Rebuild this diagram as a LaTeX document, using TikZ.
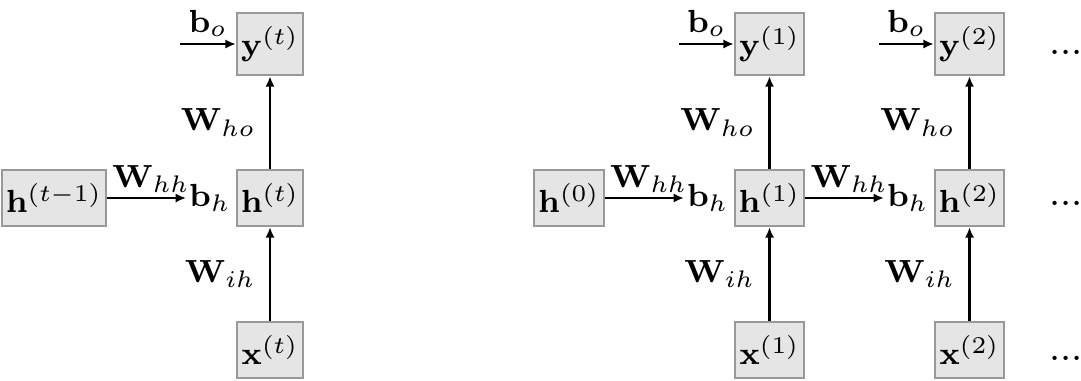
\documentclass[tikz,border=0pt]{standalone}
\usepackage{amsmath}
\usepackage{amssymb}
\usepackage{tikz}
\usetikzlibrary{arrows.meta,positioning}
\tikzstyle{cell}=[rectangle, draw=gray!80, fill=gray!20, line width=0.6pt, minimum width=16.5pt, minimum height=14pt, inner xsep=1pt]
\tikzstyle{bias}=[inner sep=0.5pt]
\tikzstyle{gap}=[inner sep=0pt, font=\normalsize]

\begin{document}
\begin{tikzpicture}[x=0.25pt, y=0.25pt, line width=0.6pt, font=\footnotesize, >={Latex[length=2.6pt,width=2.3pt]}]
                    \useasboundingbox (0,0) rectangle (1081,-380);
                    % single step
                    \node[cell] (hprev) at (54, -198) {$\mathbf{h}^{(t-1)}$};
                    \node[cell] (ht)    at (270, -198) {$\mathbf{h}^{(t)}$};
                    \node[cell] (yt)    at (270, -44)  {$\mathbf{y}^{(t)}$};
                    \node[cell] (xt)    at (270, -350) {$\mathbf{x}^{(t)}$};
                    \node[bias, left=0.5pt of ht] (bht) {$\mathbf{b}_h$};
                    \coordinate (yint) at (180, -44);
                    \draw[->]  (yint)--node[above, inner sep=1.5pt] {$\mathbf{b}_o$} (yt);
                    \draw[->]  (ht)--node[left] {$\mathbf{W}_{ho}$} (yt);
                    \draw[->]  (xt)--node[left] {$\mathbf{W}_{ih}$} (ht);
                    \draw[->]  (hprev)--node[anchor=south west, pos=0, inner sep=1pt] {$\mathbf{W}_{hh}$} (bht);
                    % unrolled
                    \node[cell] (h0) at (569, -198) {$\mathbf{h}^{(0)}$};
                    \node[cell] (h1) at (769.5, -198) {$\mathbf{h}^{(1)}$};
                    \node[cell] (y1) at (769.5, -44)  {$\mathbf{y}^{(1)}$};
                    \node[cell] (x1) at (769.5, -350) {$\mathbf{x}^{(1)}$};
                    \node[cell] (h2) at (969.5, -198) {$\mathbf{h}^{(2)}$};
                    \node[cell] (y2) at (969.5, -44)  {$\mathbf{y}^{(2)}$};
                    \node[cell] (x2) at (969.5, -350) {$\mathbf{x}^{(2)}$};
                    \node[bias, left=0.5pt of h1] (bh1) {$\mathbf{b}_h$};
                    \node[bias, left=0.5pt of h2] (bh2) {$\mathbf{b}_h$};
                    \coordinate (yin1) at (679, -44);
                    \coordinate (yin2) at (879, -44);
                    \draw[->]  (yin1)--node[above, inner sep=1.5pt] {$\mathbf{b}_o$} (y1);
                    \draw[->]  (yin2)--node[above, inner sep=1.5pt] {$\mathbf{b}_o$} (y2);
                    \draw[->]  (h1)--node[left] {$\mathbf{W}_{ho}$} (y1);
                    \draw[->]  (h2)--node[left] {$\mathbf{W}_{ho}$} (y2);
                    \draw[->]  (x1)--node[left] {$\mathbf{W}_{ih}$} (h1);
                    \draw[->]  (x2)--node[left] {$\mathbf{W}_{ih}$} (h2);
                    \draw[->]  (h0)--node[anchor=south west, pos=0, inner sep=1pt] {$\mathbf{W}_{hh}$} (bh1);
                    \draw[->]  (h1)--node[anchor=south west, pos=0, inner sep=1pt] {$\mathbf{W}_{hh}$} (bh2);
                    \node[gap] (dy) at (1066, -52)  {...};
                    \node[gap] (dh) at (1066, -203) {...};
                    \node[gap] (dx) at (1066, -358) {...};
\end{tikzpicture}
\end{document}
